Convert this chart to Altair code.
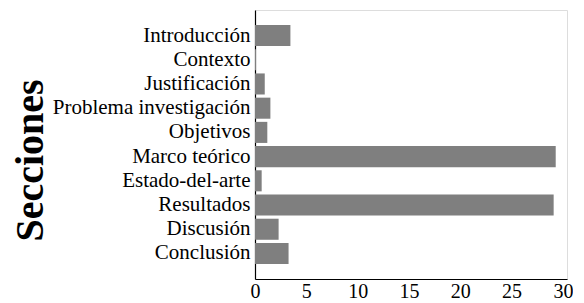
import altair as alt
import pandas as pd

secciones = ["Introducción", "Contexto", "Justificación", "Problema investigación",
             "Objetivos", "Marco teórico", "Estado-del-arte", "Resultados",
             "Discusión", "Conclusión"]
valores = [3.45, 0.1, 0.95, 1.5, 1.2, 29.3, 0.65, 29.1, 2.3, 3.27]
ticks_x = [0, 5, 10, 15, 20, 25, 30]

df = pd.DataFrame({"Secciones": secciones, "valor": valores})

FONT = "Liberation Serif"

chart = alt.Chart(df).mark_bar(color="#7f7f7f").encode(
    y=alt.Y("Secciones:N", sort=secciones,
            scale=alt.Scale(paddingInner=0.13, paddingOuter=0.62),
            axis=alt.Axis(title="Secciones", titleFont=FONT, titleFontSize=40,
                          titleFontWeight="bold", titleColor="black",
                          titlePadding=5, titleY=150,
                          labelFont=FONT, labelFontSize=21, labelColor="black",
                          labelPadding=5, labelLimit=400, ticks=False,
                          domainColor="black", domainWidth=1.2, grid=False)),
    x=alt.X("valor:Q", scale=alt.Scale(domain=[0, 30.4], nice=False),
            axis=alt.Axis(title=None, values=ticks_x, labelFont=FONT,
                          labelFontSize=20, labelColor="black", labelPadding=2,
                          ticks=False, domainColor="black", domainWidth=1.2,
                          grid=False, labelFlush=False)),
).properties(
    width=312, height=269,
    padding={"top": 2, "left": 2, "right": 0, "bottom": 0}
).configure_view(stroke=None).configure(background="white")

chart.save("out.html", embed_options={"renderer": "svg", "actions": False})
